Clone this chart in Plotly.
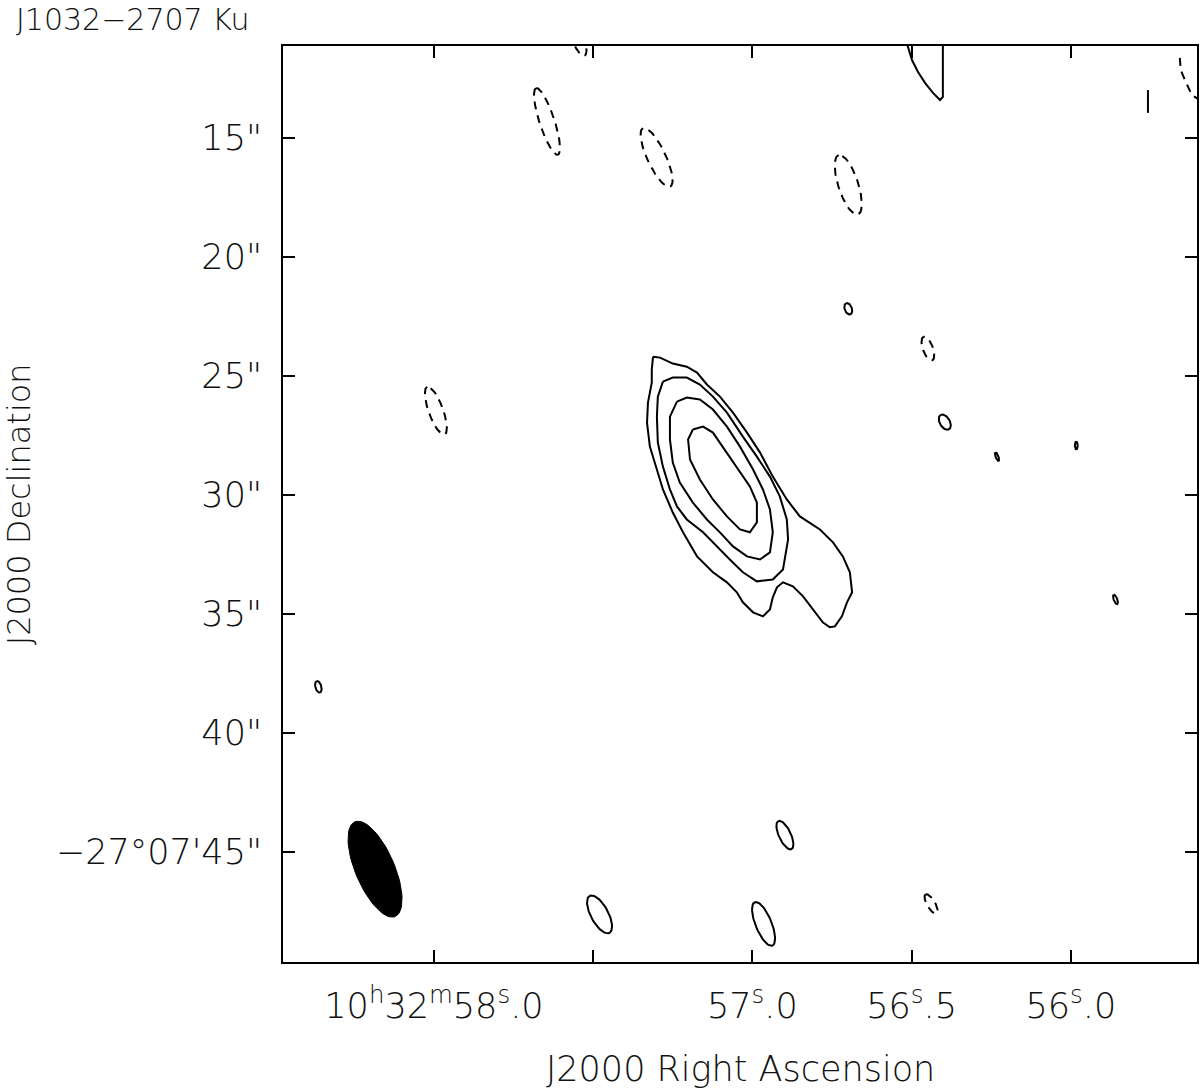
import numpy as np
import plotly.graph_objects as go

# RA in seconds of 10h32m, Dec in arcsec below -27d07'00"
c1_ra = [57.312, 57.290, 57.250, 57.206, 57.174, 57.143, 57.102, 57.061, 57.017, 56.976,
         56.936, 56.892, 56.851, 56.788, 56.747, 56.716, 56.694, 56.687, 56.703, 56.719,
         56.741, 56.757, 56.779, 56.810, 56.841, 56.873, 56.904, 56.923, 56.936, 56.945,
         56.967, 56.998, 57.030, 57.049, 57.080, 57.124, 57.174, 57.218, 57.250, 57.281,
         57.300, 57.322, 57.331, 57.328, 57.316, 57.316, 57.312]
c1_dec = [24.19, 24.23, 24.48, 24.61, 24.86, 25.36, 25.87, 26.54, 27.38, 28.22,
          29.23, 30.19, 30.90, 31.45, 31.99, 32.58, 33.25, 34.09, 34.51, 35.10,
          35.52, 35.56, 35.35, 34.81, 34.26, 33.84, 33.67, 33.88, 34.30, 34.81,
          35.10, 34.93, 34.51, 34.09, 33.67, 33.25, 32.58, 31.57, 30.74, 29.77,
          28.93, 27.97, 26.96, 26.12, 25.28, 24.73, 24.19]

c2_ra = [57.281, 57.250, 57.206, 57.165, 57.124, 57.080, 57.030, 56.986, 56.945, 56.914,
         56.892, 56.888, 56.904, 56.936, 56.986, 57.030, 57.071, 57.111, 57.155, 57.206,
         57.237, 57.259, 57.281, 57.297, 57.300, 57.297, 57.281]
c2_dec = [25.24, 25.07, 25.07, 25.36, 25.87, 26.54, 27.55, 28.39, 29.23, 30.06,
          31.03, 31.87, 33.13, 33.55, 33.63, 33.25, 32.71, 32.16, 31.57, 31.03,
          30.48, 29.77, 28.81, 27.80, 26.71, 25.87, 25.24]

c3_ra = [57.237, 57.206, 57.165, 57.124, 57.080, 57.039, 56.998, 56.967, 56.945, 56.936,
         56.945, 56.976, 57.017, 57.061, 57.102, 57.143, 57.187, 57.228, 57.250, 57.259,
         57.259, 57.237]
c3_dec = [26.08, 25.91, 25.99, 26.41, 27.13, 27.97, 28.93, 29.77, 30.61, 31.57,
          32.41, 32.71, 32.58, 32.16, 31.57, 31.03, 30.32, 29.48, 28.64, 27.67,
          26.71, 26.08]

c4_ra = [57.187, 57.155, 57.124, 57.093, 57.049, 57.008, 56.986, 56.986, 57.008, 57.039,
         57.080, 57.124, 57.165, 57.196, 57.202, 57.187]
c4_dec = [27.25, 27.13, 27.38, 27.97, 28.81, 29.64, 30.32, 31.15, 31.57, 31.45,
          30.90, 30.19, 29.35, 28.51, 27.67, 27.25]

# contour cut by the top edge of the map
edge_ra = [56.518, 56.512, 56.499, 56.480, 56.458, 56.433, 56.411, 56.402, 56.402, 56.402]
edge_dec = [10.89, 11.18, 11.73, 12.23, 12.69, 13.11, 13.41, 13.28, 11.18, 10.89]

stub_ra = [55.758, 55.758]
stub_dec = [12.99, 13.95]

neg_edge_ra = [55.658, 55.655, 55.642, 55.620, 55.595]
neg_edge_dec = [11.64, 12.15, 12.57, 13.20, 13.41]

# small positive blobs: centre, major, minor (arcsec), PA (deg)
pos_ra = [56.898, 57.480, 56.965, 58.363, 56.699, 56.396, 56.232, 55.983, 55.860]
pos_dec = [44.29, 47.62, 48.02, 38.06, 22.18, 26.94, 28.39, 27.92, 34.39]
pos_maj = [1.30, 1.76, 1.97, 0.50, 0.50, 0.70, 0.38, 0.33, 0.42]
pos_min = [0.50, 0.73, 0.67, 0.25, 0.30, 0.42, 0.12, 0.12, 0.15]
pos_pa = [25, 28, 22, 15, 20, 30, 20, 0, 20]

# negative blobs
neg_ra = [57.645, 57.301, 56.699, 57.994, 56.449, 56.439, 57.548]
neg_dec = [14.31, 15.82, 16.97, 26.46, 23.85, 47.18, 10.80]
neg_maj = [2.94, 2.71, 2.63, 2.13, 1.05, 0.92, 1.60]
neg_min = [0.63, 0.77, 0.83, 0.60, 0.42, 0.34, 0.50]
neg_pa = [18, 25, 18, 20, 20, 30, 20]

# restoring beam
beam_ra, beam_dec = 58.185, 45.72
beam_maj, beam_min, beam_pa = 4.32, 1.64, 23

xticks = [58.0, 57.5, 57.0, 56.5, 56.0]
xlabels = ['10<sup>h</sup>32<sup>m</sup>58<sup>s</sup>.0', '', '57<sup>s</sup>.0',
           '56<sup>s</sup>.5', '56<sup>s</sup>.0']
yticks = [15, 20, 25, 30, 35, 40, 45]
ylabels = ['15"', '20"', '25"', '30"', '35"', '40"', '\u221227\u00b007\'45"']

theta = np.linspace(0, 2 * np.pi, 73)
ra_scale = 15 * np.cos(np.radians(27.12))


def ellipse(ra0, dec0, maj, mnr, pa):
    p = np.radians(pa)
    u = maj / 2 * np.cos(theta)
    v = mnr / 2 * np.sin(theta)
    north = u * np.cos(p) - v * np.sin(p)
    east = u * np.sin(p) + v * np.cos(p)
    return ra0 + east / ra_scale, dec0 - north


solid = dict(color='black', width=2)
dashed = dict(color='black', width=2, dash='8px,6px')

fig = go.Figure()
for xs, ys in [(c1_ra, c1_dec), (c2_ra, c2_dec), (c3_ra, c3_dec), (c4_ra, c4_dec),
               (edge_ra, edge_dec), (stub_ra, stub_dec)]:
    fig.add_trace(go.Scatter(x=xs, y=ys, mode='lines', line=solid, hoverinfo='skip'))
fig.add_trace(go.Scatter(x=neg_edge_ra, y=neg_edge_dec, mode='lines', line=dashed, hoverinfo='skip'))

for i in range(len(pos_ra)):
    ex, ey = ellipse(pos_ra[i], pos_dec[i], pos_maj[i], pos_min[i], pos_pa[i])
    fig.add_trace(go.Scatter(x=ex, y=ey, mode='lines', line=solid, hoverinfo='skip'))
for i in range(len(neg_ra)):
    ex, ey = ellipse(neg_ra[i], neg_dec[i], neg_maj[i], neg_min[i], neg_pa[i])
    fig.add_trace(go.Scatter(x=ex, y=ey, mode='lines', line=dashed, hoverinfo='skip'))

bx, by = ellipse(beam_ra, beam_dec, beam_maj, beam_min, beam_pa)
fig.add_trace(go.Scatter(x=bx, y=by, mode='lines', fill='toself', fillcolor='black',
                         line=dict(color='black', width=1), hoverinfo='skip'))

font = dict(family='DejaVu Sans', size=35, color='#111', weight=200)
axis = dict(showgrid=False, zeroline=False, showline=True, linecolor='black', linewidth=2,
            mirror='ticks', ticks='inside', ticklen=12, tickwidth=2, tickcolor='black',
            tickfont=font, ticklabelstandoff=12, automargin=False)

fig.update_layout(
    width=1200, height=1092, showlegend=False,
    margin=dict(l=283, r=3, t=46, b=130, autoexpand=False),
    plot_bgcolor='white', paper_bgcolor='white',
    xaxis=dict(axis, range=[58.474, 55.604], tickvals=xticks, ticktext=xlabels),
    yaxis=dict(axis, range=[49.62, 11.14], tickvals=yticks, ticktext=ylabels),
    annotations=[
        dict(text='J1032\u22122707 Ku', xref='paper', yref='paper', x=-0.294, y=1.029,
             xanchor='left', yanchor='middle', showarrow=False, font=dict(font, size=30)),
        dict(text='J2000 Right Ascension', xref='paper', yref='paper', x=0.5, y=-0.117,
             xanchor='center', yanchor='middle', showarrow=False, font=font),
        dict(text='J2000 Declination', xref='paper', yref='paper', x=-0.2885, y=0.5,
             xanchor='center', yanchor='middle', textangle=-90, showarrow=False,
             font=dict(font, size=32)),
    ],
)

# the page body has a default 8px margin; drop it so the figure sits at the corner
fig.write_html("out.html", config={'displayModeBar': False},
               post_script="document.body.style.margin='0';")
